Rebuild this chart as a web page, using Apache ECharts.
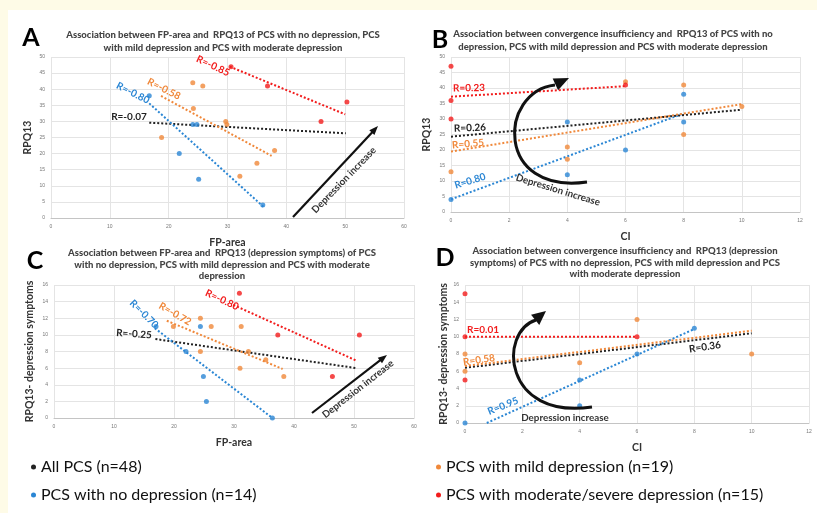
<!DOCTYPE html>
<html>
<head>
<meta charset="utf-8">
<script src="https://cdn.jsdelivr.net/npm/echarts@6/dist/echarts.min.js"></script>
<style>
html, body { margin: 0; padding: 0; background: #fefbe7; }
#wrap { position: relative; width: 817px; height: 513px; }
#paper { position: absolute; left: 8px; top: 10px; right: 0; bottom: 0; background: #fff; }
#main { position: absolute; left: 0; top: 0; width: 817px; height: 513px; }
</style>
</head>
<body>
<div id="wrap"><div id="paper"></div><div id="main"></div></div>
<script>
// 数据
// A: FP-area vs RPQ13
const aNoDep = [[16.7, 38], [21.8, 20], [24.1, 29], [24.8, 29], [25.1, 12], [36, 4]];
const aMild = [[18.8, 25], [24.1, 42], [24.2, 34], [25.8, 41], [29.7, 30], [29.9, 29], [32.1, 13], [35, 17], [38, 21]];
const aSevere = [[30.6, 47], [36.8, 41], [45.9, 30], [50.3, 36]];
const aFitAll = [[16.7, 29.6], [50.1, 26.3]];
const aFitNo = [[16.7, 35.6], [36.1, 3.5]];
const aFitMild = [[18.7, 37.9], [37.5, 19.3]];
const aFitSevere = [[30.4, 47], [50, 32.2]];
const aR = ['R=-0.07', 'R=-0.80', 'R=-0.58', 'R=-0.85'];

// B: CI vs RPQ13
const bNoDep = [[0, 4], [4, 29], [4, 12], [6, 20], [8, 38], [8, 29]];
const bMild = [[0, 13], [4, 21], [4, 17], [6, 42], [8, 41], [8, 25], [10, 34]];
const bSevere = [[0, 47], [0, 36], [0, 30], [6, 41]];
const bFitAll = [[0, 24.3], [10, 33]];
const bFitNo = [[0, 4.1], [8, 31.8]];
const bFitMild = [[0, 19.5], [10, 34.8]];
const bFitSevere = [[0, 37.2], [6, 40.6]];
const bR = ['R=0.26', 'R=0.80', 'R=0.55', 'R=0.23'];

// C: FP-area vs RPQ13 depression symptoms
const cNoDep = [[17, 11], [22, 8], [24.4, 11], [24.9, 5], [25.4, 2], [36.4, 0]];
const cMild = [[19.9, 11], [24.4, 12], [24.4, 8], [26.2, 11], [31, 6], [31.2, 11], [32.4, 8], [35.3, 7], [38.3, 5]];
const cSevere = [[30.9, 15], [37.3, 10], [46.4, 5], [50.9, 10]];
const cFitAll = [[16.9, 9.5], [50.4, 6]];
const cFitNo = [[16.8, 10.8], [36.4, 0]];
const cFitMild = [[18.8, 11.7], [38.1, 5.9]];
const cFitSevere = [[29.9, 13.6], [50.4, 6.9]];
const cR = ['R=-0.25', 'R=-0.70', 'R=-0.72', 'R=-0.80'];

// D: CI vs RPQ13 depression symptoms
const dNoDep = [[0, 0], [4, 5], [4, 2], [6, 8], [8, 11]];
const dMild = [[0, 8], [0, 6], [4, 7], [6, 12], [10, 8]];
const dSevere = [[0, 15], [0, 10], [0, 5], [6, 10]];
const dFitAll = [[0, 6.4], [10, 10.4]];
const dFitNo = [[0.76, 0], [8, 10.9]];
const dFitMild = [[0, 6.6], [10, 10.7]];
const dFitSevere = [[0, 10], [6, 10]];
const dR = ['R=0.36', 'R=0.95', 'R=0.58', 'R=0.01'];

const groups = ['All PCS (n=48)', 'PCS with no depression (n=14)', 'PCS with mild depression (n=19)', 'PCS with moderate/severe depression (n=15)'];
const titles = [
    'Association between FP-area and  RPQ13 of PCS with no depression, PCS\nwith mild depression and PCS with moderate depression',
    'Association between convergence insufficiency and  RPQ13 of PCS with no\ndepression, PCS with mild depression and PCS with moderate depression',
    'Association between FP-area and  RPQ13 (depression symptoms) of PCS\nwith no depression, PCS with mild depression and PCS with moderate\ndepression',
    'Association between convergence insufficiency and  RPQ13 (depression\nsymptoms) of PCS with no depression, PCS with mild depression and PCS\nwith moderate depression'
];
const letters = ['A', 'B', 'C', 'D'];
const arrowText = 'Depression increase';

const colors = ['#222222', '#2a86d4', '#f0883a', '#f21c1c'];
const FONT = 'Lato, "Open Sans", sans-serif';

const panels = [
    { pts: [aNoDep, aMild, aSevere], fits: [aFitAll, aFitNo, aFitMild, aFitSevere], r: aR },
    { pts: [bNoDep, bMild, bSevere], fits: [bFitAll, bFitNo, bFitMild, bFitSevere], r: bR },
    { pts: [cNoDep, cMild, cSevere], fits: [cFitAll, cFitNo, cFitMild, cFitSevere], r: cR },
    { pts: [dNoDep, dMild, dSevere], fits: [dFitAll, dFitNo, dFitMild, dFitSevere], r: dR }
];

// 布局
const grids = [
    { left: 51, top: 57, width: 353, height: 161 },
    { left: 451, top: 57, width: 349, height: 155 },
    { left: 54, top: 285, width: 360, height: 133 },
    { left: 465, top: 285, width: 344, height: 138 }
];
const titlePos = [[223, 28.5, 13], [613, 27, 13.3], [222, 247.5, 11.3], [625, 245, 11.7]];
const letterPos = [[31, 38], [440, 40], [35, 261], [445, 258]];
const yNameGap = [18, 19, 19, 15];
// R label pixel centre + rotation (deg), order: all, no, mild, severe
const rPos = [
    [[129, 117, 0], [133, 93, -27], [164, 89, -27], [213, 66, -25]],
    [[470, 128, 2], [470, 181, 17], [468, 144, 5], [469, 88, 1]],
    [[134, 334, -4], [144, 314, -45], [175, 314, -30], [222, 300, -25]],
    [[705, 347, 8], [503, 406, 22], [479, 360, 8], [483, 330, 0]]
];

let series = [];
panels.forEach(function (p, i) {
    p.fits.forEach(function (f, k) {
        series.push({
            name: groups[k], type: 'line', xAxisIndex: i, yAxisIndex: i,
            data: f, symbol: 'none', silent: true, z: 2,
            itemStyle: { color: colors[k] },
            lineStyle: { color: colors[k], width: 2, type: [2, 2] }
        });
    });
    p.pts.forEach(function (d, k) {
        series.push({
            name: groups[k + 1], type: 'scatter', xAxisIndex: i, yAxisIndex: i,
            data: d, symbolSize: 5, z: 3,
            itemStyle: { color: colors[k + 1] }
        });
    });
});

let xAxis = [], yAxis = [];
grids.forEach(function (g, i) {
    let ci = i % 2 === 1;
    xAxis.push({
        gridIndex: i, type: 'value', min: 0, max: ci ? 12 : 60, interval: ci ? 2 : 10,
        name: ci ? 'CI' : 'FP-area', nameLocation: 'middle', nameGap: 19,
        nameTextStyle: { fontWeight: 'bold', fontSize: 10.5, color: '#333', fontFamily: FONT },
        axisLine: { lineStyle: { color: '#c4c4c4' } },
        axisTick: { show: false },
        axisLabel: { fontSize: 5, color: '#777', margin: 6 },
        splitLine: { lineStyle: { color: '#e4e4e4' } }
    });
    yAxis.push({
        gridIndex: i, type: 'value', min: 0, max: i < 2 ? 50 : 16, interval: i < 2 ? 5 : 2,
        name: i < 2 ? 'RPQ13' : 'RPQ13- depression symptoms', nameLocation: 'middle', nameGap: yNameGap[i],
        nameTextStyle: { fontWeight: 'bold', fontSize: 10.5, color: '#333', fontFamily: FONT },
        axisLine: { show: false },
        axisTick: { show: false },
        axisLabel: { fontSize: 5, color: '#777', margin: 6 },
        splitLine: { lineStyle: { color: '#e4e4e4' } }
    });
});

let title = titles.map(function (t, i) {
    return {
        text: t, left: titlePos[i][0], top: titlePos[i][1], textAlign: 'center', padding: 0,
        textStyle: { fontSize: 9.5, fontWeight: 900, color: '#444', lineHeight: titlePos[i][2], fontFamily: FONT }
    };
});

//箭头
function head(tx, ty, ang, len, w) {
    let c = Math.cos(ang), s = Math.sin(ang);
    return {
        type: 'polygon', z: 10,
        shape: { points: [[tx, ty], [tx - len * c + w * s, ty - len * s - w * c], [tx - len * c - w * s, ty - len * s + w * c]] },
        style: { fill: '#111' }
    };
}
function txt(t, x, y, rot, size, color, weight) {
    return {
        type: 'text', x: x, y: y, rotation: rot * Math.PI / 180, z: 10,
        style: { text: t, fill: color, font: weight + ' ' + size + 'px ' + FONT, align: 'center', verticalAlign: 'middle' }
    };
}

let graphic = [];
letters.forEach(function (l, i) {
    graphic.push(txt(l, letterPos[i][0], letterPos[i][1], 0, 25, '#000', 'bold'));
});
panels.forEach(function (p, i) {
    p.r.forEach(function (r, k) {
        let q = rPos[i][k];
        graphic.push(txt(r, q[0], q[1], q[2], 10, colors[k], 'bold'));
    });
});
// A / C straight arrows
[[293, 217, 378, 126], [312, 413, 387, 355]].forEach(function (a) {
    let ang = Math.atan2(a[3] - a[1], a[2] - a[0]);
    graphic.push({
        type: 'line', z: 10,
        shape: { x1: a[0], y1: a[1], x2: a[2] - 6 * Math.cos(ang), y2: a[3] - 6 * Math.sin(ang) },
        style: { stroke: '#111', lineWidth: 2.2 }
    });
    graphic.push(head(a[2], a[3], ang, 9, 3.5));
});
graphic.push(txt(arrowText, 344, 180, 46, 9.8, '#333', 'bold'));
graphic.push(txt(arrowText, 358, 389, 38, 9.8, '#333', 'bold'));
// B / D curved arrows
graphic.push({
    type: 'bezierCurve', z: 10,
    shape: { x1: 587, y1: 182, cpx1: 495, cpy1: 195, cpx2: 498, cpy2: 92, x2: 555, y2: 85 },
    style: { stroke: '#111', lineWidth: 3, fill: null }
});
graphic.push(head(569, 78, Math.atan2(-6, 13), 15, 6.5));
graphic.push(txt(arrowText, 558, 190, -17, 9.8, '#333', 'bold'));
graphic.push({
    type: 'bezierCurve', z: 10,
    shape: { x1: 592, y1: 407, cpx1: 503, cpy1: 420, cpx2: 498, cpy2: 332, x2: 536, y2: 320 },
    style: { stroke: '#111', lineWidth: 3, fill: null }
});
graphic.push(head(546, 311, Math.atan2(-9, 11), 14, 6.5));
graphic.push(txt(arrowText, 565, 418, 0, 9.8, '#333', 'bold'));

let myChart = echarts.init(document.getElementById('main'));
let legendText = { fontSize: 16, color: '#111', fontFamily: FONT, lineHeight: 16 };
let option = {
    animation: false,
    title: title,
    grid: grids,
    xAxis: xAxis,
    yAxis: yAxis,
    legend: [
        { data: [groups[0], groups[1]], left: 31, top: 459, padding: 0, orient: 'vertical', itemGap: 12, icon: 'circle', itemWidth: 5, itemHeight: 5, selectedMode: false, textStyle: legendText },
        { data: [groups[2], groups[3]], left: 436, top: 459, padding: 0, orient: 'vertical', itemGap: 12, icon: 'circle', itemWidth: 5, itemHeight: 5, selectedMode: false, textStyle: legendText }
    ],
    series: series,
    graphic: graphic
};
myChart.setOption(option);
</script>
</body>
</html>
